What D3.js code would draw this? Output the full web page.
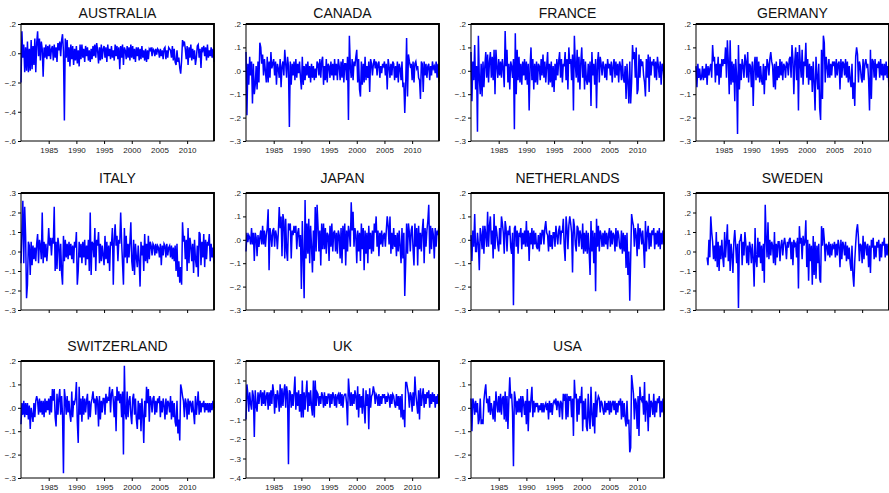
<!DOCTYPE html>
<html><head><meta charset="utf-8">
<script src="https://cdn.jsdelivr.net/npm/d3@7"></script>
<style>body{margin:0;background:#fff;} svg{display:block;font-family:"Liberation Sans",Arial,sans-serif;}</style>
</head><body><svg id="c" width="889" height="493"></svg>
<script>
// Monthly-return panels, values (percent, one value every two months)
const countries = ["AUSTRALIA","CANADA","FRANCE","GERMANY","ITALY","JAPAN","NETHERLANDS","SWEDEN","SWITZERLAND","UK","USA"];
const startYears = [1980,1980,1980,1980,1980,1980,1980,1982,1980,1980,1980];
const yMins = [-0.6,-0.3,-0.3,-0.3,-0.3,-0.3,-0.3,-0.3,-0.3,-0.4,-0.3];
const yMaxs = [0.2,0.2,0.2,0.2,0.3,0.2,0.2,0.3,0.2,0.2,0.2];
const ySteps = [0.2,0.1,0.1,0.1,0.1,0.1,0.1,0.1,0.1,0.1,0.1];
const xTickYears = [1985,1990,1995,2000,2005,2010];

const australia = [-20,15,-3,6,-13,4, -12,8,-13,3,-12,9, -11,5,-8,10,-13,7, 15,-2,10,-5,8,3, -16,4,-3,6,-4,5,
 -2,6,-4,3,5,-5, 6,-3,4,-6,7,2, 8,-2,9,13,1,-46, 10,-3,9,-6,4,-9, 6,-4,5,-8,3,-5,
 5,-7,2,-9,6,-4, 6,-3,3,-6,5,-2, 4,-5,2,-6,3,-4, 5,-2,6,-3,7,2, -7,4,-5,6,-4,3,
 5,-3,4,-6,6,-2, 3,-4,5,-3,2,-5, 6,-2,5,-4,4,-11, 5,-3,6,-8,4,2, -4,5,-3,4,-5,6,
 -3,5,-4,3,-6,4, -2,4,-5,3,-4,5, -3,2,-5,3,-6,2, -4,3,2,4,-2,3, 2,-2,3,-1,3,2,
 -3,3,-2,2,-4,3, 4,-4,2,-3,4,3, 2,-3,5,-5,3,-6, -8,2,-6,-3,-10,-14, -5,9,6,8,3,-4,
 5,-8,4,-3,6,-5, 3,-4,2,-8,-3,5, 6,-3,3,-10,4,2, 5,-2,4,-5,6,-3, 2,-2,4,-3,3,-6];
const canada = [8,-19,3,-6,6,-2, 4,-14,3,-10,-6,2, -8,4,-5,12,10,3, 7,-2,5,0,-5,6, -5,4,-3,8,1,3,
 5,-2,4,-6,3,1, -3,5,-7,2,4,-2, 9,3,-3,6,2,-24, 4,-6,3,-2,4,-4, 5,-3,3,-1,4,-3,
 -8,6,-6,2,-4,3, -2,4,-3,2,-5,3, -3,2,-4,1,-3,4, 3,-2,5,-3,4,6, -6,2,-4,5,-5,3,
 2,-3,4,-2,3,-4, 5,-2,3,-4,5,2, -4,4,-3,5,-5,3, 3,-4,6,-21,15,2, -3,5,-4,4,2,6,
 9,-5,5,-8,-11,4, -6,3,-5,6,-4,2, -3,4,-9,5,3,-2, 3,5,1,4,-2,3, 4,-3,2,-1,3,2,
 4,-2,3,-8,5,2, -3,3,-2,4,3,-4, 2,-3,4,-5,3,1, -4,4,-7,-5,-18,-6, 14,-11,7,4,2,3,
 -4,4,-5,3,4,1, 2,-3,-4,-12,4,3, -9,4,-2,3,-3,2, 3,-4,2,-2,4,1, 2,-1,4,-3,3,-5];
const france = [8,-13,4,-4,11,-8, 2,-26,15,-3,-10,3, -11,4,-7,2,8,-3, 7,-5,4,8,-3,6, -4,9,-10,9,2,-3,
 5,-2,4,-3,5,1, -7,17,2,9,-5,3, -8,4,2,-3,5,-25, 16,-10,9,-4,6,-5, 3,-6,4,-2,5,-4,
 4,-6,3,-17,2,10, -4,5,-8,3,-5,4, -6,3,2,-4,5,-2, 7,-3,4,-5,2,8, -6,3,-5,4,-7,2,
 -9,3,-4,5,-2,4, 8,-3,5,-5,3,2, 8,-4,5,-8,10,3, 5,-4,7,-17,15,3, -3,9,-5,6,-8,4,
 10,-3,5,-8,4,-4, -6,3,-5,4,-15,8, -2,3,-6,5,-16,3, 8,-5,6,3,-2,4, 2,-3,3,-4,5,1,
 3,-2,4,-5,2,5, -3,4,-2,3,-5,4, 2,-4,5,-3,-5,2, -12,3,-5,-14,4,-14, -5,11,5,8,-3,10,
 -10,-8,7,-3,5,2, 4,-2,-5,-11,5,-3, 7,-9,6,-2,4,3, 5,-3,4,-4,6,2, -3,4,-6,3,2,-3];
const germany = [2,-7,3,-3,1,-4, -3,2,-4,1,-3,3, -6,2,-2,1,3,-3, 11,4,6,-5,3,-2, 6,-6,3,-3,5,2,
 5,3,10,-3,13,4, -10,13,-6,4,-5,3, -13,5,-2,-27,11,-8, 3,-4,5,2,-3,7, 4,-3,8,-5,3,2,
 -7,4,-15,2,6,-4, 6,-3,4,-5,2,-4, -6,3,-10,2,-4,5, 3,-2,5,8,4,2, -7,3,-8,4,-4,2,
 -3,5,-2,4,-4,3, 2,-3,4,3,-2,5, 6,-3,11,5,-10,4, 10,-4,8,-17,11,3, -3,9,-6,4,2,12,
 -3,5,-6,3,-4,2, -9,4,-5,-17,6,-2, -8,3,-16,-21,9,-12, 15,12,-5,6,2,-3, 5,-3,3,-2,4,2,
 4,-3,5,-2,3,4, -8,5,-3,4,3,-2, 5,-3,4,-5,2,-4, -7,3,-12,-5,-15,6, 10,7,-5,4,2,-3,
 -5,5,-4,3,5,2, 3,-4,-17,9,-12,5, 4,-3,5,-4,3,2, 4,-3,5,-2,3,-4, 3,-2,4,-3,2,-7];
const italy = [-6,10,26,-6,23,8, -24,-17,5,3,-12,5, -7,3,-4,2,-5,4, 9,-6,6,3,-4,20, -6,5,-3,4,-5,2,
 12,3,7,-2,7,4, 23,-10,5,-9,7,3, -10,4,-11,-17,8,-5, 6,-3,4,-4,5,-2, 4,-4,3,-6,5,2,
 10,-17,-10,5,-3,4, -6,5,-3,6,-7,3, -4,6,-10,20,-12,5, 4,-3,12,-10,6,3, 10,-6,4,-5,3,-2,
 -7,8,-4,5,-6,3, -10,5,3,12,-17,6, 14,3,8,-5,6,4, 20,5,-6,-17,12,-3, 8,-6,4,-3,5,15,
 -5,-10,6,-12,4,-3, -8,3,-5,-18,5,-2, 3,-10,9,-5,4,-6, 8,-4,5,3,-2,4, 3,-2,4,-1,3,2,
 -3,4,-7,3,-2,4, 3,-3,4,-2,2,3, -3,3,-4,2,-5,3, -10,4,-13,-5,-16,-8, -17,15,5,8,-4,6,
 -10,12,-6,7,3,-5, 4,-11,6,-4,-8,3, -13,10,9,-7,5,-3, 9,-8,6,-4,5,3, 9,-5,4,-3,2,-6];
const japan = [-5,3,-1,2,1,-2, 5,-2,3,-9,3,1, -7,2,-3,1,4,-2, 6,-2,4,-3,2,5, 13,-13,5,2,-3,4,
 5,-3,4,2,-4,3, 14,5,10,-7,11,8, -8,9,-5,-9,7,4, 7,-8,4,2,6,3, 6,-4,3,5,-3,2,
 -21,8,-7,-25,17,-8, 7,-6,9,-10,6,-3, -14,4,-9,14,-5,15, 6,-5,4,-11,7,-4, 7,-4,5,-6,3,2,
 -9,6,-3,7,-5,3, 4,-5,3,-6,4,2, -8,5,-10,6,-4,7, -11,4,-5,6,3,-3, 16,4,12,-3,5,2,
 -10,4,-5,3,-9,7, -4,5,-13,4,-6,3, -10,6,-4,3,-6,4, -5,7,3,10,-3,4, -7,3,-2,4,-3,2,
 3,-3,4,10,6,-2, 10,-6,3,-4,5,-3, 2,-7,3,-5,4,-3, -10,5,-8,3,-24,-10, 7,-6,7,3,-5,4,
 6,-4,-11,7,-3,5, -11,6,-4,3,-5,4, 9,-10,5,-3,4,8, 15,-6,6,-4,5,2, -8,5,-3,4,2,6];
const netherlands = [2,-9,4,-3,11,-5, -5,3,-2,-13,5,2, -4,6,-6,6,2,-3, 12,-3,6,10,-2,4, -8,11,-4,6,3,-2,
 -5,5,-2,10,7,3, -6,8,5,-5,4,2, 6,-3,-6,3,-28,5, 6,-3,4,-6,3,2, 5,-4,3,-2,4,-3,
 8,-3,4,-9,3,-2, 5,-4,4,-2,3,-3, -4,2,-5,3,-2,4, 4,-2,5,8,3,2, -5,4,-3,2,-4,3,
 3,-3,6,2,-2,4, 6,-2,4,3,9,-3, -9,10,5,-4,6,10, 7,3,-14,9,6,-2, -5,6,5,-3,4,2,
 -4,7,-6,3,-5,4, -6,3,-5,-15,8,-5, 4,-10,3,-22,9,-3, 6,-5,4,2,-3,3, -3,4,-2,3,-4,2,
 5,-3,4,-2,3,2, -5,5,-3,4,2,-3, -4,4,-6,3,-5,2, -12,3,-15,-5,-26,-8, 11,8,6,-3,5,2,
 -7,7,-4,5,3,-2, 4,-3,-12,8,-5,3, 6,-4,3,-3,4,2, 5,-4,3,-2,4,-3, 5,-4,3,-2,4,-2];
const sweden = [-3,-7,6,-3,18,10, 5,-4,3,-5,10,-8, 5,-10,3,-4,6,-3,
 -8,10,-3,5,14,-5, 6,-10,4,-2,-11,5, 11,3,-6,4,-29,5, 6,9,-7,5,-2,10, 4,-6,3,-7,5,2,
 -6,4,-4,-18,12,-5, -8,7,-3,5,-6,3, -10,4,-16,24,7,-3, 15,-4,6,-2,5,3, -6,10,-7,4,-3,5,
 5,-5,3,6,-2,4, 7,3,-4,5,2,6, 7,-4,5,-7,6,3, 4,-3,7,-19,13,4, 7,-4,8,3,5,16,
 -8,6,-15,4,-5,3, -17,8,-12,5,-14,3, -6,4,-14,-16,13,3, 12,6,-5,4,3,-2, 5,-3,4,-2,3,2,
 5,-3,4,-2,6,3, -8,6,-4,5,3,-2, 5,-5,3,-4,2,-6, -10,3,-12,-18,-5,4, 11,14,7,-5,4,3,
 -6,8,-4,5,3,-2, 4,-8,3,-11,6,2, 7,-4,3,-3,5,2, 6,-5,4,-3,5,3, 7,-3,4,-2,4,0];
const switzerland = [-7,2,-3,3,-4,2, -3,2,-5,1,-9,0, -3,-6,2,-4,3,5, 3,-3,4,-2,3,-3, 3,-4,4,-2,3,-1,
 4,-3,5,-2,8,3, 8,-4,-8,6,-3,4, 8,-3,5,-3,-28,8, 4,-3,5,-2,3,-3, -6,7,-4,3,2,4,
 11,-6,-15,9,-3,4, -6,5,-3,4,-2,3, 6,-5,3,-4,2,4, 7,2,4,-3,5,3, -8,5,-5,3,-2,4,
 4,-3,6,2,4,3, 9,-2,6,8,3,-4, 5,-10,9,3,7,2, 6,-4,7,-20,18,-2, -5,7,-4,3,5,-3,
 -7,4,6,-3,4,-5, -9,3,-5,2,-10,4, -3,-15,3,-4,9,2, 8,-6,5,3,-2,4, 5,-3,3,-2,4,2,
 5,-4,3,-2,4,1, -5,4,-3,3,2,-2, 5,-5,3,-4,2,-6, -8,3,-11,-5,-14,10, 8,5,3,-4,4,2,
 -5,4,-3,3,2,-2, 3,-2,-7,5,-3,2, 7,-3,3,-2,2,1, 3,-2,2,-1,2,-2, 2,-2,2,-1,3,0];
const uk = [-10,8,3,-6,4,-2, -5,5,2,-19,5,-3, -6,4,-2,3,5,-3, 4,-2,5,-3,2,4, -5,4,-3,5,-2,8,
 4,-7,3,-4,5,2, -6,8,-4,6,-3,4, 8,-4,7,3,-33,5, 4,-4,3,-3,4,12, -5,4,-3,5,-6,3,
 -9,10,-9,4,-5,3, 10,-6,4,-3,5,-4, -8,10,-9,10,-3,4, 3,-3,2,-2,4,2, -4,4,-3,2,-2,3,
 3,-4,3,-2,4,2, -3,3,-4,2,3,-2, 4,-3,3,-4,2,3, 3,-2,-13,11,4,-3, 4,-3,3,-2,5,2,
 -5,7,-9,3,-4,2, -7,6,-4,-12,5,-3, 3,-15,6,-4,2,3, 7,4,-2,3,2,-3, 3,-3,2,-2,3,1,
 3,-2,2,-1,3,2, -4,3,-2,3,2,-2, -4,3,-3,2,-5,2, -9,3,-10,-5,-14,9, 9,6,3,-4,4,2,
 -6,4,-3,12,3,-2, -7,5,-10,6,-3,2, 6,-4,3,-2,4,1, 5,-4,3,-2,4,-1, 3,-4,2,-2,3,-3];
const usa = [4,-10,4,2,-3,3, -2,2,-7,-5,4,-7, -5,-7,3,7,10,2, 4,-2,5,-3,2,-1, -5,3,-6,7,2,-2,
 5,-2,6,-3,4,5, -5,7,-6,5,-9,3, 13,4,6,-2,-25,7, 4,-3,3,-2,4,-2, 5,-4,5,2,-3,3,
 -7,8,-10,3,-2,4, 9,-4,3,-2,2,1, 2,-2,1,-1,2,-2, 2,-2,1,2,-1,2, -5,3,-2,2,-3,2,
 3,2,4,-1,3,2, -4,3,2,-5,6,3, 6,-5,6,-4,5,3, 5,-4,4,-12,12,4, 6,-6,4,-3,5,2,
 9,-10,3,-5,4,-8, -10,6,-4,-9,9,-3, -8,2,-11,7,-4,3, 5,4,-2,3,2,-1, -3,3,-2,2,-1,3,
 -3,3,-2,2,3,-1, 3,-3,2,-2,3,1, 4,-5,3,-4,2,-5, -8,3,-7,-5,-19,-17, 14,10,6,-5,4,2,
 -9,5,-12,9,4,3, 5,-3,11,-6,3,2, -10,6,-4,3,2,-3, 6,-4,3,-2,4,2, 5,-4,3,-2,4,-3];
const seriesList = [australia,canada,france,germany,italy,japan,netherlands,sweden,switzerland,uk,usa];

// layout
const colLeft = [21, 246, 471, 696];
const rowTop = [24, 193, 361];
const titleBase = [17.5, 182.5, 350.5];
const W = 193, H = 117;
const showXLabels = [true, false, true];

const svg = d3.select("#c");
const yFmt = d => { const s = d3.format(".1f")(Math.abs(d) < 1e-9 ? 0 : d); return s.replace("0.", "."); };

countries.forEach((name, k) => {
  const r = Math.floor(k / 4), c = k % 4;
  const L = colLeft[c], T = rowTop[r];
  const g = svg.append("g").attr("transform", `translate(${L},${T})`);
  const x = d3.scaleLinear().domain([1980, 2014.85]).range([0, W]);
  const y = d3.scaleLinear().domain([yMins[k], yMaxs[k]]).range([H, 0]);
  const vals = seriesList[k];
  const pts = vals.map((v, i) => [startYears[k] + i / 6, v / 100]);

  const yt = d3.range(Math.round((yMaxs[k] - yMins[k]) / ySteps[k]) + 1).map(i => +(yMins[k] + i * ySteps[k]).toFixed(2));
  const ya = g.append("g").call(d3.axisLeft(y).tickValues(yt).tickFormat(yFmt).tickSize(3).tickPadding(2));
  ya.select(".domain").remove();
  ya.selectAll("text").attr("font-size", "8px").attr("fill", "#1a1a1a").attr("font-family", '"Liberation Sans",Arial,sans-serif');
  ya.selectAll("line").attr("stroke", "#000");

  const xa = g.append("g").attr("transform", `translate(0,${H})`)
    .call(d3.axisBottom(x).tickValues(xTickYears).tickFormat(showXLabels[r] ? d3.format("d") : () => "").tickSize(3).tickPadding(3));
  xa.select(".domain").remove();
  xa.selectAll("text").attr("font-size", "8px").attr("fill", "#1a1a1a").attr("font-family", '"Liberation Sans",Arial,sans-serif');
  xa.selectAll("line").attr("stroke", "#000");

  g.append("path").datum(pts)
    .attr("fill", "none").attr("stroke", "#0000ff").attr("stroke-width", 1.5).attr("stroke-linejoin", "miter")
    .attr("d", d3.line().x(d => x(d[0])).y(d => y(d[1])));

  g.append("rect").attr("x", 0).attr("y", 0).attr("width", W).attr("height", H)
    .attr("fill", "none").attr("stroke", "#000").attr("stroke-width", 1);
  g.append("path").attr("d", `M0,0H${W}V${H}`).attr("fill", "none").attr("stroke", "#000").attr("stroke-width", 1.8);

  svg.append("text").attr("x", L + W / 2).attr("y", titleBase[r]).attr("text-anchor", "middle")
    .attr("font-size", "14px").attr("fill", "#111").text(name);
});
</script></body></html>
